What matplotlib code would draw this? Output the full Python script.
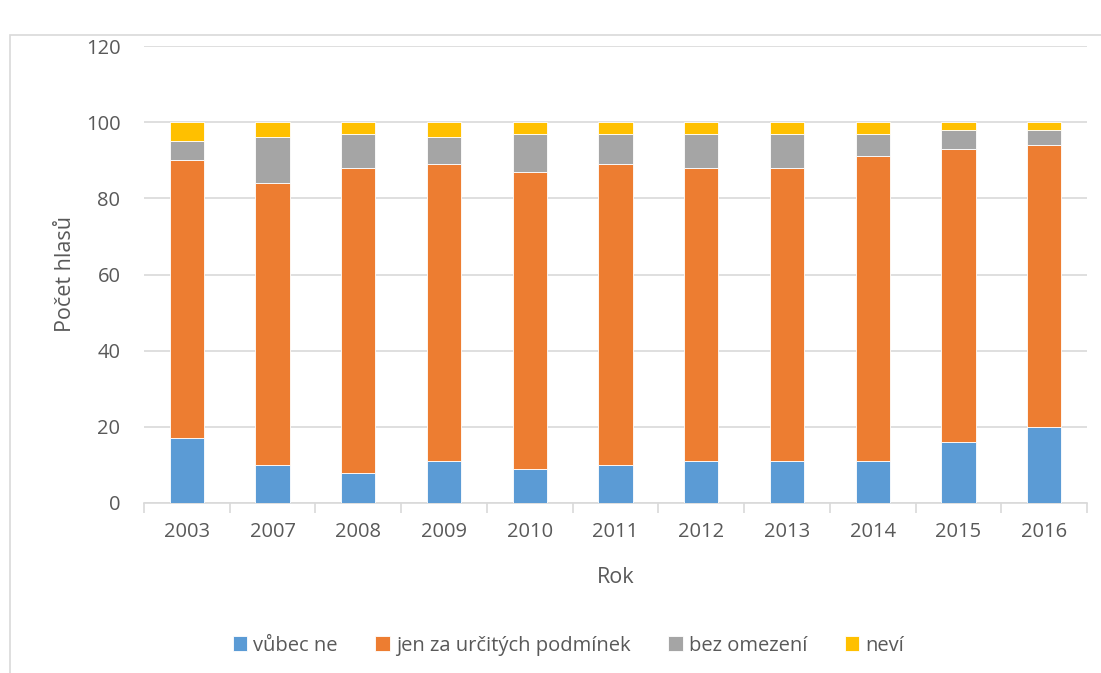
import matplotlib.pyplot as plt
from matplotlib.patches import Rectangle
import numpy as np

plt.rcParams['font.family'] = ['Open Sans', 'DejaVu Sans']

roky = ['2003', '2007', '2008', '2009', '2010', '2011', '2012', '2013', '2014', '2015', '2016']
vubec_ne = [17, 10, 8, 11, 9, 10, 11, 11, 11, 16, 20]
jen_za_podminek = [73, 74, 80, 78, 78, 79, 77, 77, 80, 77, 74]
bez_omezeni = [5, 12, 9, 7, 10, 8, 9, 9, 6, 5, 4]
nevi = [5, 4, 3, 4, 3, 3, 3, 3, 3, 2, 2]

series = [
    ('vůbec ne', vubec_ne, '#5B9BD5'),
    ('jen za určitých podmínek', jen_za_podminek, '#ED7D31'),
    ('bez omezení', bez_omezeni, '#A5A5A5'),
    ('neví', nevi, '#FFC000'),
]

text_color = '#595959'
grid_color = '#D9D9D9'

fig = plt.figure(figsize=(11.01, 6.73), dpi=100)
ax = fig.add_axes([144 / 1101, 1 - 503 / 673, (1087 - 144) / 1101, (503 - 46) / 673])

x = np.arange(len(roky))
bottom = np.zeros(len(roky))
for name, vals, color in series:
    ax.bar(x, vals, width=0.4, bottom=bottom, color=color, label=name,
           edgecolor='white', linewidth=0.6, zorder=3)
    bottom += np.array(vals)

ax.set_ylim(0, 120)
ax.set_xlim(-0.5, len(roky) - 0.5)
ax.set_yticks(range(0, 121, 20))
ax.yaxis.grid(True, color=grid_color, linewidth=1.2, zorder=0)
ax.set_xticks(x)
ax.set_xticklabels(roky)
ax.set_xticks(np.arange(-0.5, len(roky), 1), minor=True)
ax.tick_params(axis='x', which='major', length=0, pad=14, labelsize=14.5, labelcolor=text_color)
ax.tick_params(axis='x', which='minor', length=7, color=grid_color, width=1.2)
ax.tick_params(axis='y', length=0, pad=17, labelsize=14.5, labelcolor=text_color)

for side in ['top', 'right', 'left']:
    ax.spines[side].set_visible(False)
ax.spines['bottom'].set_color(grid_color)
ax.spines['bottom'].set_linewidth(1.2)

ax.set_xlabel('Rok', fontsize=15.5, color=text_color, labelpad=18)
ax.set_ylabel('Počet hlasů', fontsize=15.5, color=text_color, labelpad=7)

leg = ax.legend(loc='center', bbox_to_anchor=(0.45, -0.312), ncol=4, frameon=False,
                fontsize=14.5, handlelength=0.7, handleheight=0.7, handletextpad=0.3,
                columnspacing=1.9)
for t in leg.get_texts():
    t.set_color(text_color)

fig.patches.append(Rectangle((10 / 1101, -0.1), 1.2, 1 - 35 / 673 + 0.1,
                             transform=fig.transFigure, fill=False,
                             edgecolor=grid_color, linewidth=1.2))

plt.savefig('out.png', dpi=100)
